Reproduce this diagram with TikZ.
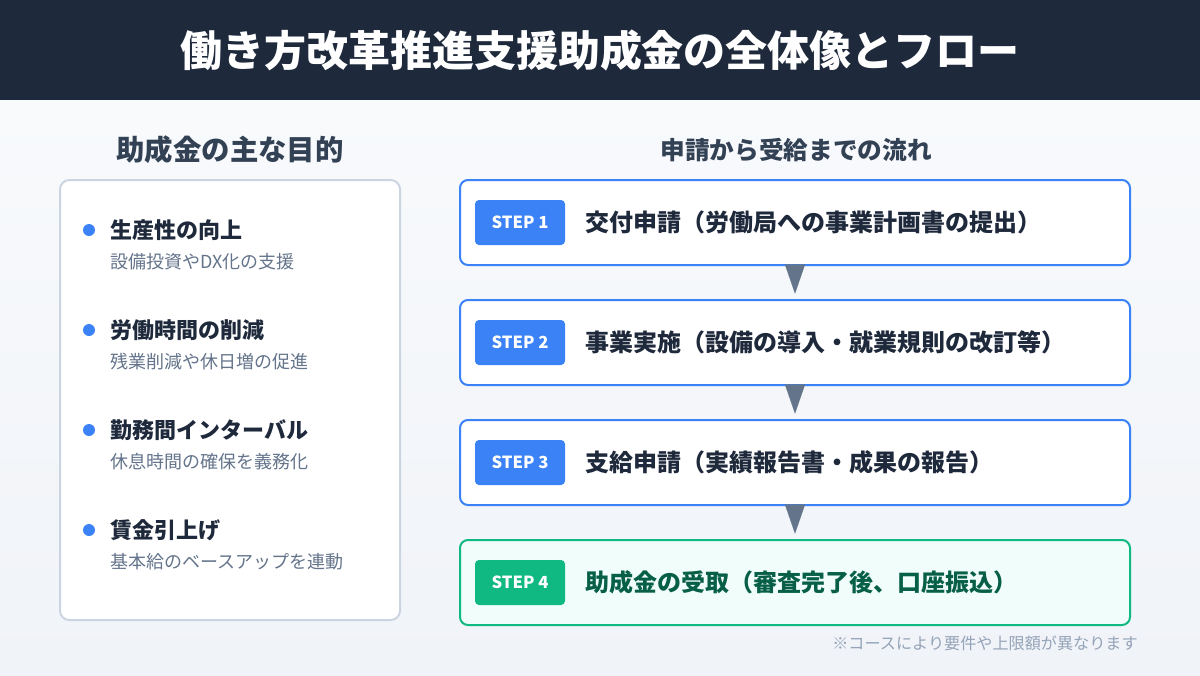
\documentclass[tikz,border=0pt]{standalone}
\usepackage{fontspec}
\setmainfont{Noto Sans CJK JP}
\usetikzlibrary{arrows.meta, positioning}

\definecolor{navy}{HTML}{1E293B}
\definecolor{ink}{HTML}{1E293B}
\definecolor{heading}{HTML}{334155}
\definecolor{subgray}{HTML}{64748B}
\definecolor{notegray}{HTML}{94A3B8}
\definecolor{panelline}{HTML}{CBD5E1}
\definecolor{stepblue}{HTML}{3B82F6}
\definecolor{stepgreen}{HTML}{10B981}
\definecolor{mint}{HTML}{F0FDFA}
\definecolor{darkgreen}{HTML}{065F46}
\definecolor{arrowgray}{HTML}{64748B}
\definecolor{bgtop}{HTML}{F8FAFC}
\definecolor{bgbottom}{HTML}{F0F3F8}

\begin{document}
\begin{tikzpicture}[x=0.75pt, y=-0.75pt,
  sectionhead/.style={text=heading, font=\fontsize{19.5}{23}\selectfont\bfseries},
  panel/.style={draw=panelline, line width=1.5pt, fill=white, rounded corners=7pt,
    minimum width=255pt, minimum height=330pt},
  dot/.style={circle, fill=stepblue, inner sep=0pt, minimum size=9pt},
  itemtitle/.style={anchor=west, inner sep=0pt, text=ink, font=\fontsize{16.5}{19}\selectfont\bfseries},
  itemsub/.style={anchor=west, inner sep=0pt, text=subgray, font=\fontsize{13.5}{16}\selectfont},
  stepbox/.style={draw=stepblue, line width=1.5pt, fill=white, rounded corners=6pt,
    minimum width=502.5pt, minimum height=63.75pt},
  badge/.style={fill=stepblue, rounded corners=3pt, minimum width=67.5pt,
    minimum height=33.75pt, text=white, font=\fontsize{12.5}{14}\selectfont\bfseries},
  steptext/.style={anchor=west, inner sep=0pt, text=ink, font=\fontsize{18}{22}\selectfont\bfseries},
  flow/.style={arrowgray, line width=0.1pt, -{Triangle[width=15pt, length=21.75pt]},
    shorten <=0.75pt, shorten >=4pt}
]
\useasboundingbox (0,0) rectangle (1200,675);

% background and header band
\shade[top color=bgtop, bottom color=bgbottom] (0,100) rectangle (1200,675);
\fill[navy] (0,0) rectangle (1200,100);
\node[text=white, font=\fontsize{31.5}{36}\selectfont\bfseries] (title) at (600,50)
  {働き方改革推進支援助成金の全体像とフロー};

% left: goals
\node[sectionhead, font=\fontsize{21.3}{25}\selectfont\bfseries] (goalhead) at (230,150) {助成金の主な目的};
\node[panel] (goals) at (230,400) {};
\foreach \y/\head/\sub [count=\i] in {
  230/生産性の向上/設備投資やDX化の支援,
  330/労働時間の削減/残業削減や休日増の促進,
  430/勤務間インターバル/休息時間の確保を義務化,
  530/賃金引上げ/基本給のベースアップを連動} {
  \node[dot] (dot\i) at (89,\y) {};
  \node[itemtitle] (item\i) at (110,\y) {\head};
  \node[itemsub] (note\i) at (110,\y+32) {\sub};
}

% right: flow
\node[sectionhead, font=\fontsize{18.5}{22}\selectfont\bfseries] (flowhead) at (796,150) {申請から受給までの流れ};
\foreach \y/\txt [count=\i] in {
  222.5/交付申請（労働局への事業計画書の提出）,
  342.5/事業実施（設備の導入・就業規則の改訂等）,
  462.5/支給申請（実績報告書・成果の報告）} {
  \node[stepbox] (s\i) at (795,\y) {};
  \node[badge] (b\i) at (520,\y) {STEP \i};
  \node[steptext] (l\i) at (585,\y) {\txt};
}
\node[stepbox, draw=stepgreen, fill=mint] (s4) at (795,582.5) {};
\node[badge, fill=stepgreen] (b4) at (520,582.5) {STEP 4};
\node[steptext, text=darkgreen] (l4) at (585,582.5) {助成金の受取（審査完了後、口座振込）};

\draw[flow] (s1) -- (s2);
\draw[flow] (s2) -- (s3);
\draw[flow] (s3) -- (s4);

\node[anchor=east, inner sep=0pt, text=notegray, font=\fontsize{12.1}{14}\selectfont] (note) at (1138,643)
  {※コースにより要件や上限額が異なります};

\end{tikzpicture}
\end{document}
